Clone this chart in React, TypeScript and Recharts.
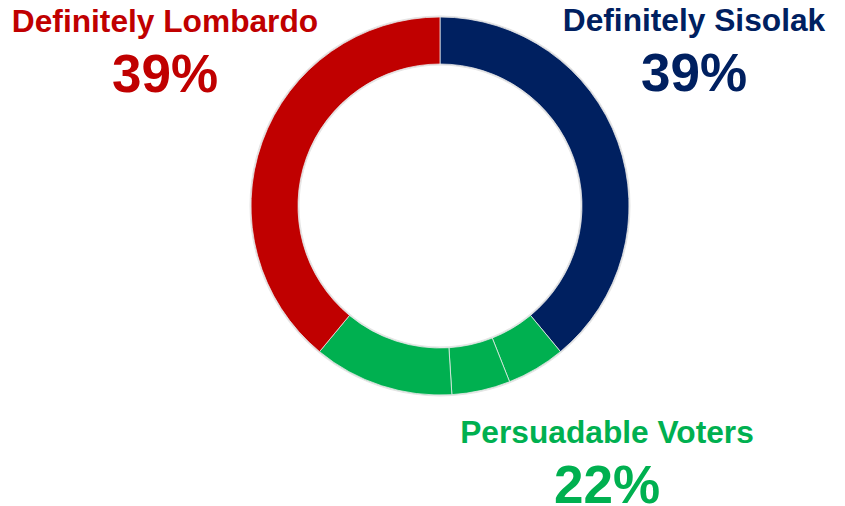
import { PieChart, Pie, Cell } from "recharts";

const slices = ["Definitely Sisolak", "Persuadable A", "Persuadable B", "Persuadable C", "Definitely Lombardo"];
const sliceValues = [39, 5, 5, 12, 39];
const sliceColors = ["#002060", "#00B050", "#00B050", "#00B050", "#C00000"];

const labelNames = ["Definitely Lombardo", "Definitely Sisolak", "Persuadable Voters"];
const labelValues = [39, 39, sliceValues[1] + sliceValues[2] + sliceValues[3]];
const labelColors = ["#C00000", "#002060", "#00B050"];
const labelPos = [
  { x: 165, y: 32 },
  { x: 694, y: 31 },
  { x: 607, y: 443 },
];

const data = slices.map((name, i) => ({ name, value: sliceValues[i] }));

export default function App() {
  const font = "'Liberation Sans', Arial, sans-serif";
  return (
    <div style={{ position: "fixed", left: 0, top: 0, width: 845, height: 506, background: "#fff" }}>
      <PieChart width={845} height={506} margin={{ top: 0, right: 0, bottom: 0, left: 0 }}>
        <Pie
          data={[{ name: "halo", value: 1 }]}
          dataKey="value"
          cx={440}
          cy={206}
          innerRadius={140.5}
          outerRadius={190.5}
          fill="#e4e4e4"
          stroke="none"
          isAnimationActive={false}
        />
        <Pie
          data={data}
          dataKey="value"
          cx={440}
          cy={206}
          innerRadius={142}
          outerRadius={189}
          startAngle={90}
          endAngle={-270}
          stroke="#eeeeee"
          strokeWidth={0.75}
          isAnimationActive={false}
        >
          {data.map((d, i) => (
            <Cell key={d.name} fill={sliceColors[i]} />
          ))}
        </Pie>
      </PieChart>
      <svg width={845} height={506} style={{ position: "absolute", left: 0, top: 0, pointerEvents: "none" }}>
        {labelNames.map((name, i) => (
          <g key={name} fill={labelColors[i]} fontFamily={font} fontWeight="bold" textAnchor="middle">
            <text x={labelPos[i].x} y={labelPos[i].y} fontSize={31.7}>
              {name}
            </text>
            <text x={labelPos[i].x} y={labelPos[i].y + 60} fontSize={53}>
              {labelValues[i]}%
            </text>
          </g>
        ))}
      </svg>
    </div>
  );
}
